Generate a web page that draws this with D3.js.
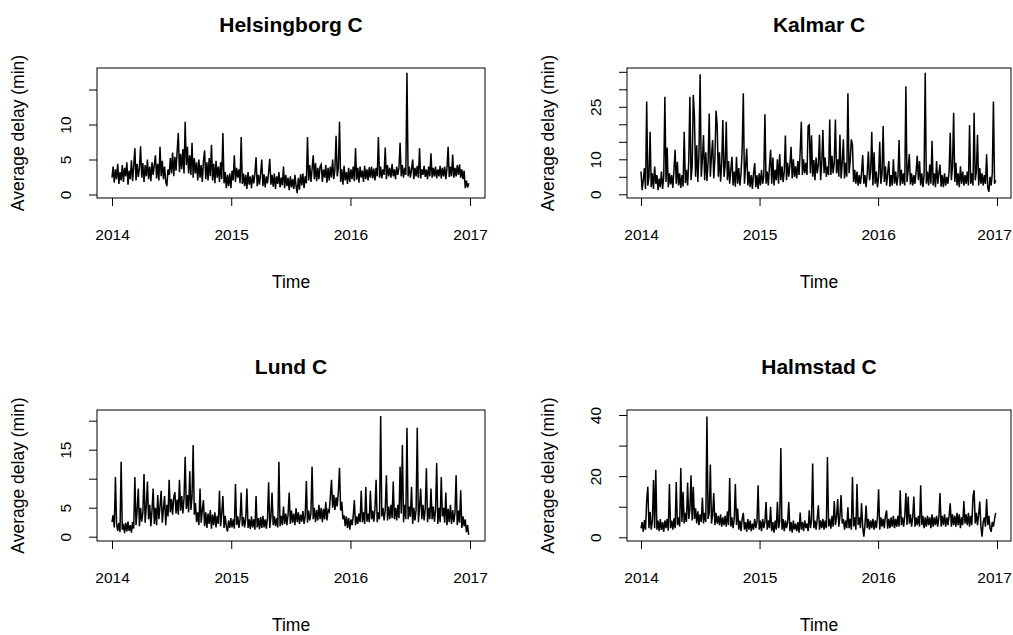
<!DOCTYPE html>
<html>
<head>
<meta charset="utf-8">
<script src="https://cdn.jsdelivr.net/npm/d3@7"></script>
<style>
  body { margin: 0; background: #fff; }
  svg { display: block; font-family: "Liberation Sans", Arial, Helvetica, sans-serif; }
</style>
</head>
<body>
<div id="chart"></div>
<script>
// average delay (min), one value every 3.5 days from 2014-01-01
const helsingborg = [
  2.4,4.0,1.7,3.6,2.2,4.4,1.5,3.2,2.0,4.2, 1.8,3.8,2.6,4.6,1.4,3.4,2.2,4.9,1.9,4.0,
  6.6,2.0,4.4,2.5,3.8,6.9,2.4,4.5,1.8,4.2, 2.6,5.0,2.2,4.0,1.9,4.6,2.8,4.2,5.6,2.3,
  4.4,2.0,6.8,2.6,4.8,2.2,4.0,1.8,1.2,3.6, 2.8,5.2,3.0,6.0,2.6,5.4,3.4,6.2,8.8,3.2,
  5.8,3.6,6.5,3.0,10.4,4.2,6.8,3.0,5.6,2.8, 7.4,2.4,5.2,3.0,4.6,2.0,5.0,2.4,4.2,1.8,
  4.8,6.3,2.2,4.6,2.0,5.2,2.6,7.1,2.0,4.4, 1.6,4.8,2.4,4.0,1.8,4.6,2.2,8.8,1.6,3.2,
  0.9,2.8,1.2,3.0,0.9,3.4,2.0,5.6,1.8,3.8, 2.4,3.6,1.6,8.2,1.5,3.0,1.2,2.8,0.8,3.2,
  1.4,2.6,0.9,2.8,1.6,3.0,5.3,1.2,2.8,1.4, 3.0,5.0,1.2,2.9,1.0,2.6,1.6,3.2,5.1,1.4,
  2.8,1.1,3.0,0.8,2.6,1.5,3.2,1.0,2.4,1.3, 4.0,0.9,2.8,1.2,2.4,0.6,2.6,1.0,2.2,0.8,
  2.8,1.2,0.2,2.4,0.7,2.9,1.3,3.0,0.9,2.6, 1.6,8.2,2.0,4.2,1.8,3.6,5.6,2.2,4.5,1.9,
  3.8,2.2,4.0,4.3,1.8,3.6,2.4,4.2,1.7,3.8, 2.0,4.0,2.4,5.0,2.2,3.6,8.4,2.6,3.8,10.4,
  1.8,3.6,1.4,4.1,2.0,3.2,1.5,3.8,1.8,3.6, 2.2,4.0,1.9,6.6,2.1,3.8,1.7,4.0,2.4,3.4,
  1.8,4.1,2.2,3.6,2.0,3.9,2.4,4.0,2.3,3.7, 2.0,3.8,2.6,8.2,2.4,4.0,2.3,3.6,2.8,6.7,
  2.2,4.2,2.6,3.8,2.4,4.4,2.6,3.6,2.2,4.0, 2.8,3.8,7.4,2.6,4.2,2.4,3.8,2.8,17.4,2.6,
  4.0,2.4,3.6,5.0,2.2,3.8,2.6,4.1,2.4,6.6, 2.3,3.6,2.8,4.1,2.5,3.6,2.2,4.0,2.6,5.9,
  2.4,3.8,2.6,4.0,2.3,3.6,2.6,4.1,2.3,3.8, 2.6,4.0,2.2,3.7,6.8,2.5,4.0,2.6,5.7,2.4,
  3.8,2.6,4.2,2.8,4.3,2.4,3.6,2.2,3.4,0.9, 2.0,1.0,1.6];

const kalmar = [
  6.5,1.2,4.0,7.5,1.5,26.5,2.5,5.0,17.9,2.0, 6.0,1.5,7.9,3.0,5.5,1.2,4.5,2.0,6.5,1.5,
  5.0,27.9,3.5,13.4,2.0,6.0,2.8,5.5,1.8,7.0, 12.7,3.0,9.3,2.5,6.0,1.8,5.5,2.2,17.9,3.2,
  7.0,2.5,9.5,27.9,4.0,8.0,28.4,22.2,5.0,14.0, 3.5,12.0,34.3,5.0,10.0,16.9,4.0,12.0,3.8,9.0,
  23.1,5.0,11.0,15.5,4.5,10.0,23.9,19.8,5.0,12.0, 3.6,9.0,21.2,5.0,8.0,20.7,4.0,9.5,3.0,7.0,
  10.7,2.5,6.5,2.2,10.7,3.0,7.5,2.5,6.0,12.9, 28.9,3.0,8.0,13.1,2.5,6.5,2.0,5.5,1.5,6.0,
  8.9,2.0,5.5,1.5,6.0,2.5,7.0,3.0,5.0,22.9, 3.0,6.5,2.5,8.0,12.7,3.0,10.5,2.5,7.0,4.0,
  10.0,3.0,11.5,4.0,8.0,3.5,6.5,16.8,4.0,9.0, 5.0,8.5,13.6,4.5,10.0,5.0,8.0,4.5,9.5,5.5,
  12.0,20.7,5.5,10.0,6.0,9.0,5.5,19.5,19.8,6.0, 16.9,5.0,9.8,4.0,10.5,6.0,8.5,17.0,4.0,9.0,
  18.4,6.0,10.5,5.0,8.0,5.5,21.4,5.5,11.0,6.0, 9.0,21.4,6.0,10.0,5.0,17.0,4.5,9.0,15.7,4.5,
  9.0,5.0,28.9,6.0,9.5,15.7,14.1,3.5,7.0,3.0, 6.5,2.5,5.5,3.0,6.0,11.2,3.0,5.5,2.0,6.0,
  12.2,4.0,6.5,17.9,2.5,12.0,3.0,6.5,2.0,5.0, 15.0,3.0,6.0,19.5,3.5,8.0,2.5,6.0,9.5,2.2,
  5.5,2.5,10.0,3.0,6.5,2.5,5.0,15.5,2.5,7.0, 3.0,6.0,2.5,30.9,3.5,7.0,11.5,2.8,6.0,2.5,
  5.5,3.0,6.5,11.0,4.0,9.5,2.5,6.0,2.0,5.5, 34.7,3.0,6.5,2.5,8.5,3.0,15.3,2.5,6.0,2.0,
  9.5,3.0,6.0,8.5,2.2,5.5,2.0,6.0,2.5,5.0, 3.0,6.5,17.6,4.0,8.0,23.3,3.5,9.0,2.5,6.0,
  2.0,8.0,3.0,6.5,2.5,5.5,3.0,6.5,2.5,19.8, 3.0,6.0,2.5,23.3,4.0,6.5,17.0,2.5,7.5,3.0,
  6.0,2.5,5.5,3.0,11.4,2.0,0.7,5.0,2.5,6.0, 26.5,3.0,4.0];

const lund = [
  2.5,3.7,1.6,10.3,2.2,1.0,2.4,0.8,12.9,1.2, 2.2,0.6,2.4,0.9,2.6,1.0,2.0,0.7,2.5,1.4,
  10.3,2.0,4.5,8.3,1.8,5.0,2.6,4.2,10.8,2.4, 5.2,9.5,3.0,5.5,1.8,4.6,8.3,2.2,5.0,2.0,
  7.2,3.0,5.2,7.9,2.4,4.8,7.0,2.0,5.5,3.5, 9.8,4.2,6.5,3.8,6.8,7.7,4.0,6.4,3.8,9.8,
  4.5,7.0,4.0,6.6,13.8,4.8,7.2,4.2,11.3,4.6, 6.8,15.8,3.8,5.8,2.5,4.2,2.0,8.3,2.4,4.6,
  6.3,1.8,4.2,1.5,4.0,2.2,4.6,1.4,3.8,2.0, 4.2,1.6,3.6,2.2,7.9,1.8,4.0,7.0,1.5,3.6,
  1.8,0.9,2.8,1.5,3.2,1.6,3.0,1.4,9.1,2.0, 3.5,1.5,3.0,7.6,1.8,3.4,1.6,3.2,8.3,1.5,
  3.0,1.3,3.5,1.6,3.0,1.2,7.0,1.6,3.2,1.3, 3.4,1.5,3.6,1.6,3.0,1.4,3.2,9.4,1.5,3.4,
  7.6,2.0,3.5,1.8,3.2,1.6,12.9,1.8,3.6,2.0, 5.2,2.2,4.0,2.0,3.8,7.6,2.2,4.5,2.4,4.0,
  2.0,4.9,2.5,4.2,2.2,3.8,2.6,4.4,2.2,3.6, 9.6,2.4,4.5,2.8,4.0,12.1,3.0,5.0,2.5,4.6,
  2.8,5.5,3.0,5.0,2.5,4.8,3.0,6.0,2.8,4.6, 4.3,7.0,9.8,5.0,7.2,4.6,6.8,5.2,7.7,11.9,
  4.5,6.0,3.0,3.7,1.8,3.5,1.5,3.2,1.2,3.0, 2.0,3.6,6.3,2.0,3.5,2.2,4.0,2.5,7.9,2.5,
  4.2,2.2,8.6,2.6,4.0,2.5,7.9,3.0,4.5,2.6, 4.8,9.8,2.5,4.2,3.0,20.8,3.5,5.0,2.8,4.6,
  10.6,2.8,5.2,3.0,5.5,3.2,9.5,3.0,5.0,2.8, 5.5,3.2,12.1,4.0,15.8,2.5,5.5,3.0,18.8,3.0,
  5.2,3.4,8.6,2.2,5.0,2.8,4.6,18.8,2.5,5.0, 8.3,3.0,5.5,2.8,4.8,11.8,2.5,5.0,3.0,8.3,
  3.0,5.2,2.6,4.6,12.7,2.2,5.0,2.5,10.3,3.5, 5.0,2.4,7.6,2.0,4.8,2.5,5.5,2.2,4.6,2.5,
  4.2,10.6,2.0,4.5,2.4,8.0,1.5,3.5,1.8,3.0, 0.8,2.0,0.3];

const halmstad = [
  2.9,5.0,1.8,5.6,2.5,12.1,16.5,3.0,8.3,2.5, 5.5,18.7,3.0,22.1,2.5,5.5,2.0,6.0,2.4,5.0,
  1.8,5.5,3.0,6.0,2.2,17.4,3.0,5.5,2.5,6.2, 3.0,18.1,4.0,6.5,3.5,22.7,5.0,14.9,4.5,8.0,
  5.0,17.9,6.0,9.0,20.3,5.5,16.5,6.0,9.5,4.5, 8.5,4.0,7.5,5.0,12.9,4.5,8.0,5.0,39.5,6.0,
  8.0,23.8,4.5,7.5,14.5,4.0,8.0,4.5,7.0,4.0, 7.5,3.5,6.5,4.0,7.0,3.5,8.5,4.0,19.4,3.5,
  6.5,3.0,6.0,17.4,4.0,9.4,2.5,5.5,2.0,6.0, 8.0,2.5,5.0,1.8,6.0,2.5,5.5,2.0,4.5,2.5,
  6.0,3.0,5.0,17.0,2.5,5.5,2.0,6.0,3.0,5.0, 11.5,2.5,5.5,3.0,10.0,2.0,5.0,1.5,5.5,2.5,
  11.6,3.0,5.0,29.2,2.5,6.0,2.0,5.5,3.0,5.0, 11.5,2.0,5.0,1.5,5.5,2.5,4.5,2.0,5.0,1.5,
  8.1,2.5,5.0,2.0,5.5,3.0,4.5,2.0,8.8,3.0, 5.5,24.1,3.0,5.5,2.5,6.0,10.5,2.5,5.5,3.0,
  6.0,2.5,5.5,3.0,26.3,3.5,6.0,2.8,7.0,3.5, 11.9,4.0,6.5,12.5,3.5,7.0,13.8,4.5,6.0,2.5,
  5.5,3.0,9.8,3.0,6.0,2.5,19.7,3.5,6.5,2.5, 17.4,4.0,6.5,3.0,11.1,3.5,0.2,4.0,10.4,3.0,
  6.0,2.5,5.5,3.0,6.0,2.5,5.5,3.0,6.5,15.7, 2.5,6.5,3.5,6.0,3.0,7.0,8.8,2.8,6.0,3.0,
  6.5,3.5,7.0,3.0,6.0,3.5,7.0,3.5,15.4,4.0, 6.5,3.5,7.0,14.5,4.0,13.3,4.5,7.5,3.5,6.5,
  13.3,3.5,6.5,4.0,7.0,3.5,17.0,4.0,7.0,3.0, 6.5,3.5,7.0,4.0,6.5,3.0,7.5,3.5,6.5,4.0,
  7.0,3.5,6.5,14.5,3.5,7.0,4.0,7.5,3.5,6.5, 4.0,7.0,11.1,3.5,7.5,4.0,7.0,3.5,8.0,4.0,
  7.5,3.0,6.5,4.0,11.9,4.5,7.5,4.0,8.0,3.5, 7.0,4.0,13.3,15.4,4.5,8.0,4.0,7.5,11.7,3.5,
  0.2,5.0,6.5,3.5,12.5,4.0,7.0,3.0,1.8,5.0, 3.5,6.0,8.0];

const stations = ["Helsingborg C", "Kalmar C", "Lund C", "Halmstad C"];
const series = [helsingborg, kalmar, lund, halmstad];
const years = [2014, 2015, 2016, 2017];
const yTicks = [[0, 5, 10, 15], [0, 5, 10, 15, 20, 25, 30, 35], [0, 5, 10, 15, 20], [0, 10, 20, 30, 40]];
const yLabels = [[0, 5, 10], [0, 10, 25], [0, 5, 15], [0, 20, 40]];
const yMax = [15, 35, 20, 40];

// panel boxes in pixels (2x2 grid)
const panels = [
  { left: 97, right: 485, top: 68, bottom: 198, x0: 112, x1: 470, y0: 194.5, y1: 89.5 },
  { left: 627, right: 1011, top: 68, bottom: 198, x0: 641, x1: 997, y0: 194.3, y1: 71.8 },
  { left: 97, right: 485, top: 410, bottom: 541, x0: 112, x1: 470, y0: 536.7, y1: 420.7 },
  { left: 627, right: 1011, top: 410, bottom: 541, x0: 641, x1: 997, y0: 537.3, y1: 415 }
];

const width = 1013;
const height = 635;
const tickLen = 8;
const step = 3.5 * 864e5;   // 3.5 days in ms
const start = new Date(2014, 0, 1).getTime();

const svg = d3.select("#chart").append("svg")
  .attr("width", width)
  .attr("height", height);

panels.forEach((p, k) => {
  const x = d3.scaleTime()
    .domain([new Date(years[0], 0, 1), new Date(years[years.length - 1], 0, 1)])
    .range([p.x0, p.x1]);

  const y = d3.scaleLinear()
    .domain([0, yMax[k]])
    .range([p.y0, p.y1]);

  const g = svg.append("g").attr("class", "panel");

  // the series
  const line = d3.line()
    .x((d, i) => x(new Date(start + i * step)))
    .y(d => y(d));

  g.append("path")
    .datum(series[k])
    .attr("fill", "none")
    .attr("stroke", "#000")
    .attr("stroke-width", 1.5)
    .attr("d", line);

  // box
  g.append("rect")
    .attr("x", p.left)
    .attr("y", p.top)
    .attr("width", p.right - p.left)
    .attr("height", p.bottom - p.top)
    .attr("fill", "none")
    .attr("stroke", "#000")
    .attr("stroke-width", 1);

  // x axis
  const xAxis = d3.axisBottom(x)
    .tickValues(years.map(yr => new Date(yr, 0, 1)))
    .tickFormat(d3.timeFormat("%Y"))
    .tickSize(tickLen)
    .tickPadding(0);

  const gx = g.append("g")
    .attr("transform", `translate(0, ${p.bottom})`)
    .call(xAxis);
  gx.select(".domain").remove();
  gx.selectAll(".tick line").attr("stroke", "#000");
  gx.selectAll(".tick text")
    .attr("y", 42)
    .attr("dy", 0)
    // keep the last label inside the page on the right-hand panels
    .attr("dx", (d, i) => (p.right > 1000 && i === years.length - 1) ? -3 : 0)
    .attr("fill", "#000")
    .style("font-size", "15.5px")
    .style("font-family", "'Liberation Sans', Arial, sans-serif");

  // y axis, only some ticks labelled (like R drops overlapping labels)
  const yAxis = d3.axisLeft(y)
    .tickValues(yTicks[k])
    .tickFormat(d => yLabels[k].includes(d) ? d : "")
    .tickSize(tickLen)
    .tickPadding(0);

  const gy = g.append("g")
    .attr("transform", `translate(${p.left}, 0)`)
    .call(yAxis);
  gy.select(".domain").remove();
  gy.selectAll(".tick line").attr("stroke", "#000");
  gy.selectAll(".tick text")
    .attr("x", 0)
    .attr("dy", 0)
    .attr("transform", "translate(-26, 0) rotate(-90)")
    .attr("text-anchor", "middle")
    .attr("fill", "#000")
    .style("font-size", "15.5px")
    .style("font-family", "'Liberation Sans', Arial, sans-serif");

  // title
  g.append("text")
    .attr("x", (p.left + p.right) / 2)
    .attr("y", p.top - 36)
    .attr("text-anchor", "middle")
    .style("font-size", "21px")
    .style("font-weight", "bold")
    .text(stations[k]);

  // axis titles
  g.append("text")
    .attr("x", (p.left + p.right) / 2)
    .attr("y", p.bottom + 90)
    .attr("text-anchor", "middle")
    .style("font-size", "17.5px")
    .text("Time");

  g.append("text")
    .attr("transform", `translate(${p.left - 73}, ${(p.top + p.bottom) / 2}) rotate(-90)`)
    .attr("text-anchor", "middle")
    .style("font-size", "17.5px")
    .text("Average delay (min)");
});
</script>
</body>
</html>
